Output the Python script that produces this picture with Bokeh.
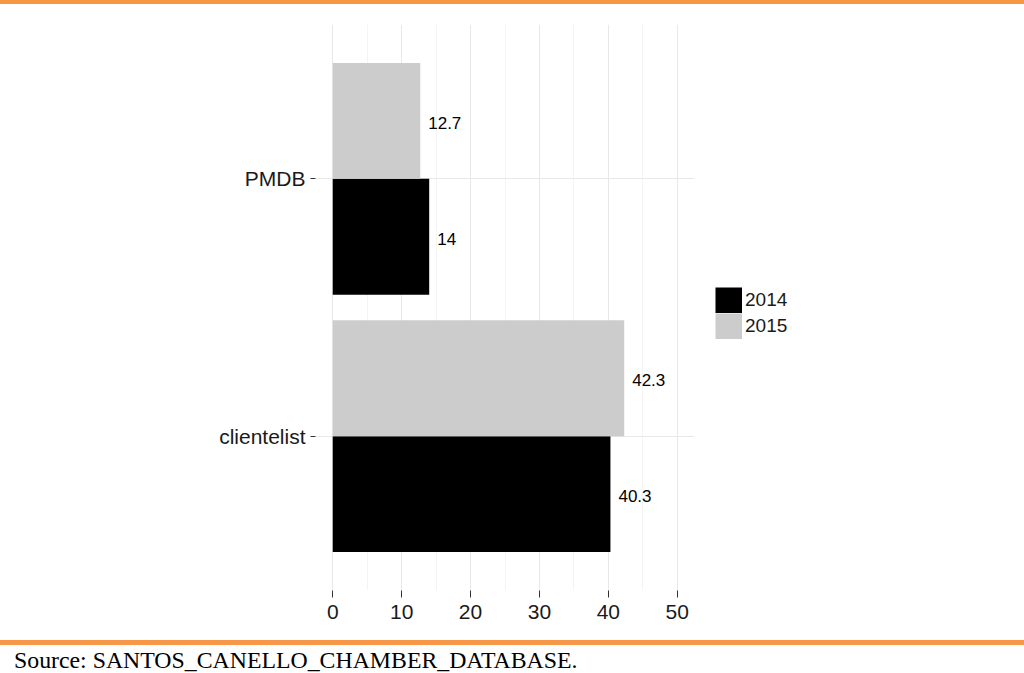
from bokeh.plotting import figure
from bokeh.layouts import column
from bokeh.models import (FactorRange, Range1d, FixedTicker, Legend, LegendItem,
                          ColumnDataSource, Div)
from bokeh.transform import dodge
from bokeh.core.properties import value
from bokeh.embed import file_html
from bokeh.resources import INLINE

# ---- data ----
categories = ["clientelist", "PMDB"]
years = ["2014", "2015"]
values_2014 = [40.3, 14.0]
values_2015 = [42.3, 12.7]
labels_2014 = ["40.3", "14"]
labels_2015 = ["42.3", "12.7"]
x_ticks = [0, 10, 20, 30, 40, 50]
x_minor = [5, 15, 25, 35, 45]
source_text = "Source: SANTOS_CANELLO_CHAMBER_DATABASE."

SANS = "Liberation Sans"
SERIF = "Liberation Serif"
ORANGE = "#f79646"
BLACK = "#000000"
GREY = "#cccccc"

W = 1024
TOP_RULE = 4
FIG_H = 636          # figure occupies page y 4 .. 640
OFF = TOP_RULE
FL, FR, FT, FB = 315, 694, 24 - OFF, 590 - OFF  # frame edges in figure px

p = figure(frame_width=FR - FL, frame_height=FB - FT,
           y_range=FactorRange(factors=categories, range_padding=0.1),
           x_range=Range1d(-2.5, 52.5),
           output_backend="svg", toolbar_location=None,
           min_border_left=FL, min_border_right=0,
           min_border_top=FT, min_border_bottom=FIG_H - FB)
p.outline_line_color = None
p.background_fill_color = "white"
p.border_fill_color = "white"

src = ColumnDataSource(dict(cat=categories, v2014=values_2014, v2015=values_2015,
                            l2014=labels_2014, l2015=labels_2015))

y14 = dodge("cat", -0.225, range=p.y_range)
y15 = dodge("cat", 0.225, range=p.y_range)

p.hbar(y=y14, left=0, right="v2014", height=0.45, source=src,
       fill_color=BLACK, line_color=None)
p.hbar(y=y15, left=0, right="v2015", height=0.45, source=src,
       fill_color=GREY, line_color=None)

for yy, vcol, lcol in [(y14, "v2014", "l2014"), (y15, "v2015", "l2015")]:
    p.text(x=vcol, y=yy, text=lcol, source=src, x_offset=8, y_offset=2,
           text_align="left", text_baseline="middle",
           text_font=value(SANS), text_font_size="17px", text_color=BLACK)

# hidden copies of the bars used only as legend keys (thick stroke so the
# keys fill their cells edge to edge, as in the reference)
k14 = p.hbar(y=y14, left=0, right="v2014", height=0.45, source=src,
             fill_color=BLACK, line_color=BLACK, line_width=5.4,
             line_join="miter", visible=False)
k15 = p.hbar(y=y15, left=0, right="v2015", height=0.45, source=src,
             fill_color=GREY, line_color=GREY, line_width=5.4,
             line_join="miter", visible=False)

# axes
ticker = FixedTicker(ticks=x_ticks, minor_ticks=x_minor)
p.xaxis.ticker = ticker
p.xgrid.ticker = ticker
for ax in (p.xaxis[0], p.yaxis[0]):
    ax.axis_line_color = None
    ax.major_tick_in = 0
    ax.major_tick_line_color = "#333333"
    ax.minor_tick_line_color = None
    ax.major_label_text_font = SANS
    ax.major_label_text_font_size = "21px"
    ax.major_label_text_color = "#1a1a1a"
p.xaxis.major_tick_out = 7
p.xaxis.major_label_standoff = 7
p.yaxis.major_tick_out = 5
p.yaxis.major_label_standoff = 5

p.xgrid.grid_line_color = "#e8e8e8"
p.xgrid.minor_grid_line_color = "#f4f4f4"
p.ygrid.grid_line_color = "#e8e8e8"

legend = Legend(items=[LegendItem(label=years[0], renderers=[k14]),
                       LegendItem(label=years[1], renderers=[k15])],
                location=(21, 251), padding=0, margin=0, spacing=0,
                glyph_width=27, glyph_height=26, label_standoff=3,
                label_text_font=SANS, label_text_font_size="19px",
                label_text_color="#1a1a1a",
                inactive_fill_alpha=0,
                border_line_color=None, background_fill_alpha=0)
p.add_layout(legend, "right")

top_rule = Div(text="", width=W, height=TOP_RULE, margin=0,
               styles={"background-color": ORANGE})
bottom_rule = Div(text="", width=W, height=5, margin=0,
                  styles={"background-color": ORANGE})
source_div = Div(text=source_text, width=W, height=28, margin=0,
                 styles={"font-family": SERIF, "font-size": "23.8px",
                         "color": "#000000", "padding-left": "14px",
                         "line-height": "30px", "white-space": "nowrap"})

layout = column(top_rule, p, bottom_rule, source_div, spacing=0)

open("out.html", "w").write(file_html(layout, INLINE))
